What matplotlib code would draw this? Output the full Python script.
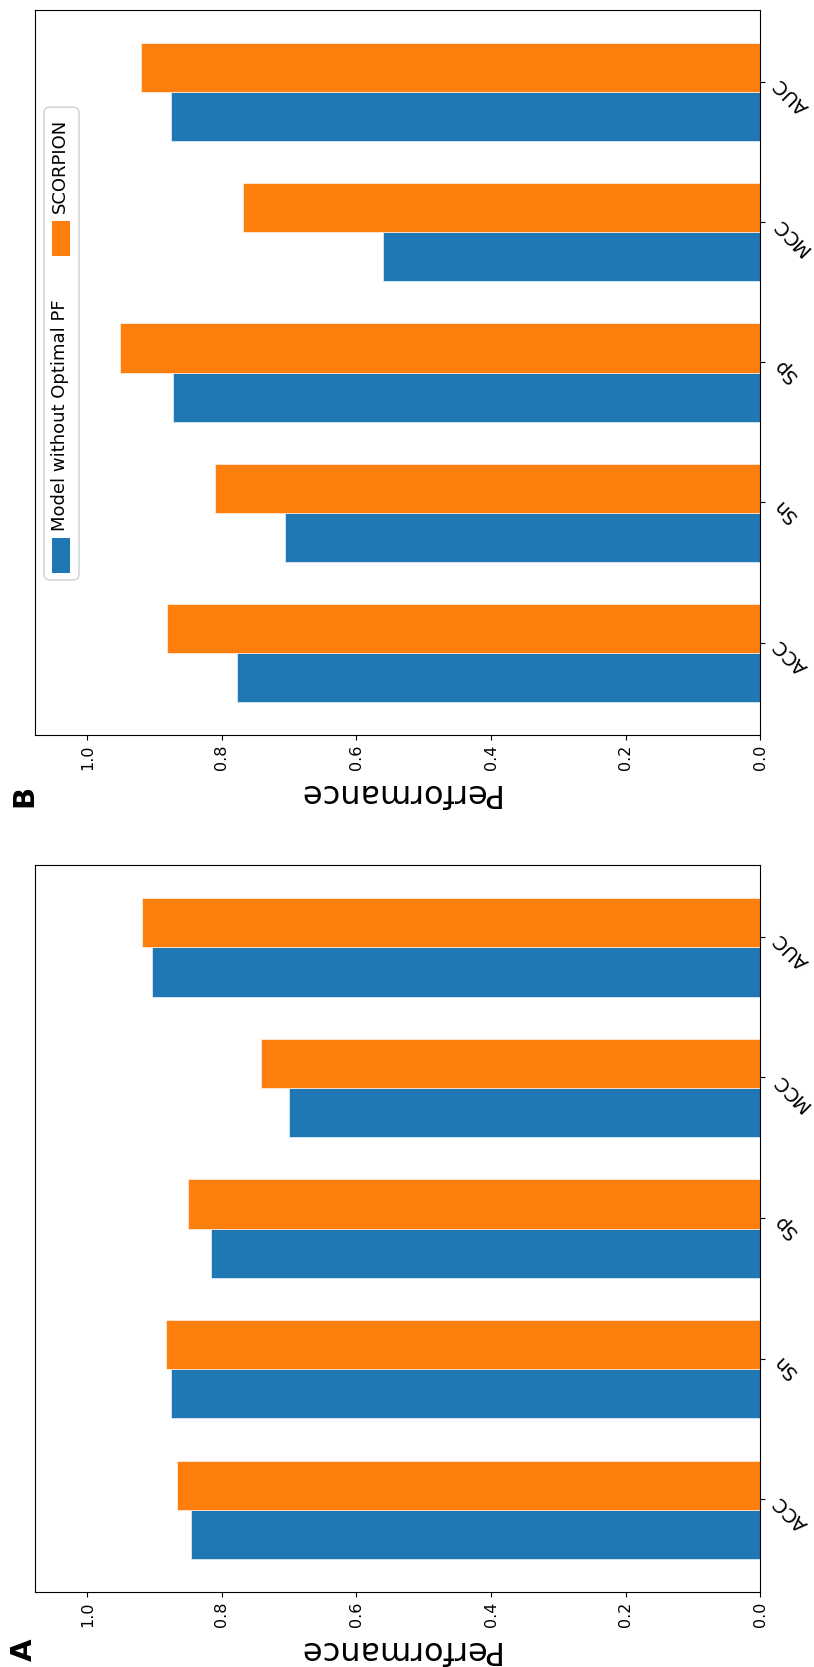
import numpy as np
import matplotlib
matplotlib.use("Agg")
import matplotlib.pyplot as plt
from matplotlib.patches import FancyBboxPatch, Rectangle

# metrics, listed bottom to top along each panel
metrics = ['ACC', 'Sn', 'Sp', 'MCC', 'AUC']
series = ['Model without Optimal PF', 'SCORPION']

# panel A scores
a_base = [0.846, 0.876, 0.816, 0.700, 0.904]
a_scorpion = [0.867, 0.883, 0.851, 0.742, 0.919]

# panel B scores
b_base = [0.778, 0.707, 0.873, 0.561, 0.876]
b_scorpion = [0.881, 0.810, 0.952, 0.769, 0.921]

perf_ticks = [0.0, 0.2, 0.4, 0.6, 0.8, 1.0]

blue = '#1f77b4'
orange = '#ff7f0e'
bw = 0.35  # bar thickness

fig = plt.figure(figsize=(8.14, 16.67), dpi=100)


def draw_panel(ax, base, scorpion):
    y = np.arange(len(metrics))
    ax.barh(y - bw / 2, base, height=bw, color=blue, edgecolor='white', linewidth=0.4)
    ax.barh(y + bw / 2, scorpion, height=bw, color=orange, edgecolor='white', linewidth=0.4)
    ax.set_xlim(1.078, 0)
    ax.set_ylim(-0.585, len(metrics) - 1 + 0.585)
    ax.set_xticks(perf_ticks)
    ax.set_xticklabels(['%.1f' % t for t in perf_ticks], rotation=90, fontsize=11.5)
    ax.yaxis.tick_right()
    ax.set_yticks(y + 0.075)
    ax.set_yticklabels(metrics, rotation=135, fontsize=14)
    ax.set_xlabel('Performance', fontsize=23, rotation=180, labelpad=5)


ax_b = fig.add_axes([0.043, 0.559, 0.8907, 0.435])
draw_panel(ax_b, b_base, b_scorpion)

ax_a = fig.add_axes([0.043, 0.045, 0.8907, 0.436])
draw_panel(ax_a, a_base, a_scorpion)

# legend drawn by hand so it can run along the panel
frame = FancyBboxPatch((0.0124, 0.214), 0.0483, 0.652,
                       boxstyle='round,pad=0,rounding_size=0.008',
                       transform=ax_b.transAxes, facecolor='white',
                       edgecolor='#d0d0d0', linewidth=1.0, zorder=5)
ax_b.add_patch(frame)
ax_b.add_patch(Rectangle((0.0234, 0.2234), 0.0249, 0.0483, transform=ax_b.transAxes,
                         facecolor=blue, edgecolor='none', zorder=6))
ax_b.add_patch(Rectangle((0.0234, 0.661), 0.0249, 0.0483, transform=ax_b.transAxes,
                         facecolor=orange, edgecolor='none', zorder=6))
ax_b.text(0.0345, 0.282, series[0], transform=ax_b.transAxes, rotation=90,
          rotation_mode='anchor', ha='left', va='center', fontsize=13, zorder=7)
ax_b.text(0.0345, 0.72, series[1], transform=ax_b.transAxes, rotation=90,
          rotation_mode='anchor', ha='left', va='center', fontsize=13, zorder=7)

# panel letters
fig.text(0.0295, 0.0105, 'A', rotation=90, fontsize=21, fontweight='bold',
         ha='center', va='center')
fig.text(0.0295, 0.5225, 'B', rotation=90, fontsize=21, fontweight='bold',
         ha='center', va='center')

fig.savefig('out.png', dpi=100)
